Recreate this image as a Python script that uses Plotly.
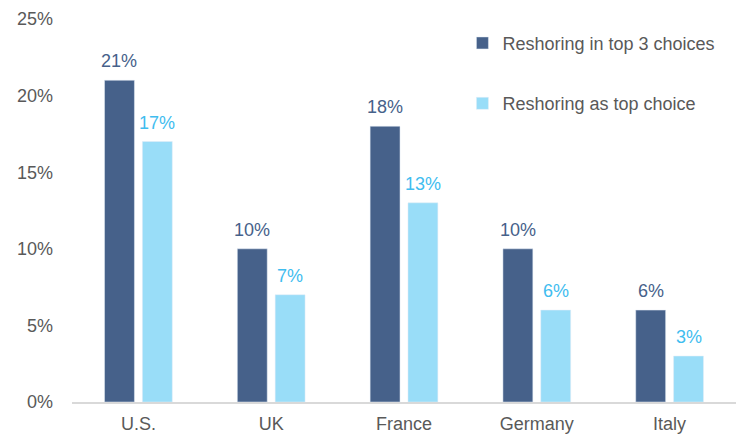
import plotly.graph_objects as go

countries = ["U.S.", "UK", "France", "Germany", "Italy"]
top3 = [21, 10, 18, 10, 6]
top1 = [17, 7, 13, 6, 3]
series_names = ["Reshoring in top 3 choices", "Reshoring as top choice"]
tick_vals = [0, 5, 10, 15, 20, 25]
tick_text = [f"{v}%" for v in tick_vals]

dark = "#46618A"
light = "#99DDF8"
dark_label = "#46618A"
light_label = "#3FBDEF"
font_family = "Liberation Sans, Arial, sans-serif"
fs = 18

fig = go.Figure()
fig.add_trace(go.Bar(x=countries, y=top3, name=series_names[0], marker_color=dark,
                     legendgroup="a"))
fig.add_trace(go.Bar(x=countries, y=top1, name=series_names[1], marker_color=light,
                     legendgroup="b"))

for vals, col, shift in [(top3, dark_label, -19), (top1, light_label, 19)]:
    for c, v in zip(countries, vals):
        fig.add_annotation(x=c, y=v, text=f"{v}%", showarrow=False,
                           xref="x", yref="y", yanchor="bottom", xanchor="center",
                           xshift=shift, yshift=7,
                           font=dict(color=col, size=fs, family=font_family))

fig.update_layout(
    width=736, height=435,
    margin=dict(l=72, r=0, t=19, b=33, autoexpand=False),
    paper_bgcolor="white", plot_bgcolor="white",
    barmode="group", bargap=0.43, bargroupgap=0.21,
    font=dict(family=font_family, size=fs, color="#595959"),
    showlegend=True,
    legend=dict(x=0.588, y=0.985, xanchor="left", yanchor="top",
                tracegroupgap=34, font=dict(size=fs, color="#595959"),
                itemwidth=30,
                bgcolor="rgba(0,0,0,0)"),
)
fig.update_xaxes(showline=True, linecolor="#D9D9D9", linewidth=1.5, automargin=False,
                 ticks="", showgrid=False, ticklabelstandoff=5,
                 tickfont=dict(size=fs, color="#595959"))
fig.update_yaxes(range=[0, 25], tickvals=tick_vals, ticktext=tick_text, automargin=False,
                 showgrid=False, zeroline=False, showline=False, ticks="",
                 ticklabelstandoff=18,
                 tickfont=dict(size=fs, color="#595959"))

fig.write_html("out.html", config={"displayModeBar": False},
               post_script="document.body.style.margin='0';")
